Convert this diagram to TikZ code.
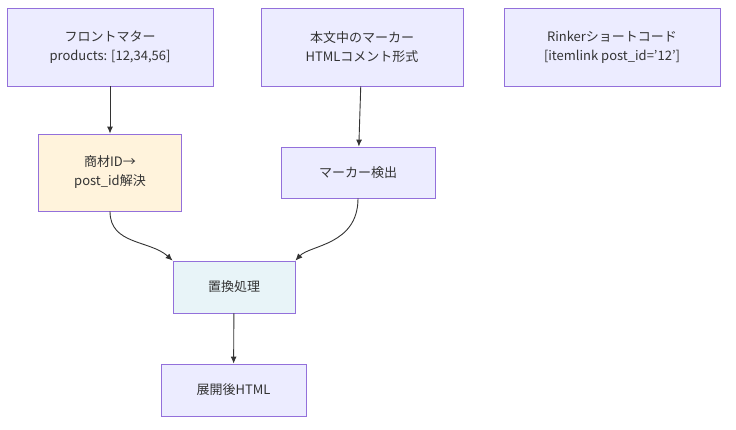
\documentclass[tikz,border=0pt]{standalone}
\usepackage{fontspec}
\setmainfont{Noto Sans CJK JP}
\usetikzlibrary{arrows.meta}
\definecolor{lav}{HTML}{ECECFF}
\definecolor{bd}{HTML}{9370DB}
\definecolor{cream}{HTML}{FFF3DC}
\definecolor{lblue}{HTML}{E8F4F8}
\definecolor{ln}{HTML}{333333}
\begin{document}
\begin{tikzpicture}[x=1pt,y=-1pt,
 box/.style={draw=bd,fill=lav,line width=0.8pt,align=center,font=\fontsize{13}{19}\selectfont,text=ln,inner sep=0,anchor=center},
 arr/.style={draw=ln,line width=0.9pt,-{Latex[length=7pt,width=6pt]}}]
\useasboundingbox (0,0) rectangle (736,430);
\node[box,minimum width=206,minimum height=78] (A) at (110,47) {フロントマター\\products: [12,34,56]};
\node[box,minimum width=202,minimum height=78] (B) at (362,47) {本文中のマーカー\\HTMLコメント形式};
\node[box,minimum width=216,minimum height=78] (C) at (612,47) {Rinkerショートコード\\{[itemlink post\_id='12']}};
\node[box,fill=cream,minimum width=143,minimum height=77] (D) at (110,172.5) {商材ID→\\post\_id解決};
\node[box,minimum width=154,minimum height=51] (E) at (358,172.5) {マーカー検出};
\node[box,fill=lblue,minimum width=122,minimum height=52] (F) at (234,287) {置換処理};
\node[box,minimum width=145,minimum height=52] (G) at (233.5,390) {展開後HTML};
\draw[arr] (A) -- (D);
\draw[arr] (B) -- (E);
\draw[arr] (D.south) .. controls (110,245) and (150,240) .. (F.north west);
\draw[arr] (E.south) .. controls (358,245) and (310,245) .. (F.north east);
\draw[arr] (F) -- (G);
\end{tikzpicture}
\end{document}
